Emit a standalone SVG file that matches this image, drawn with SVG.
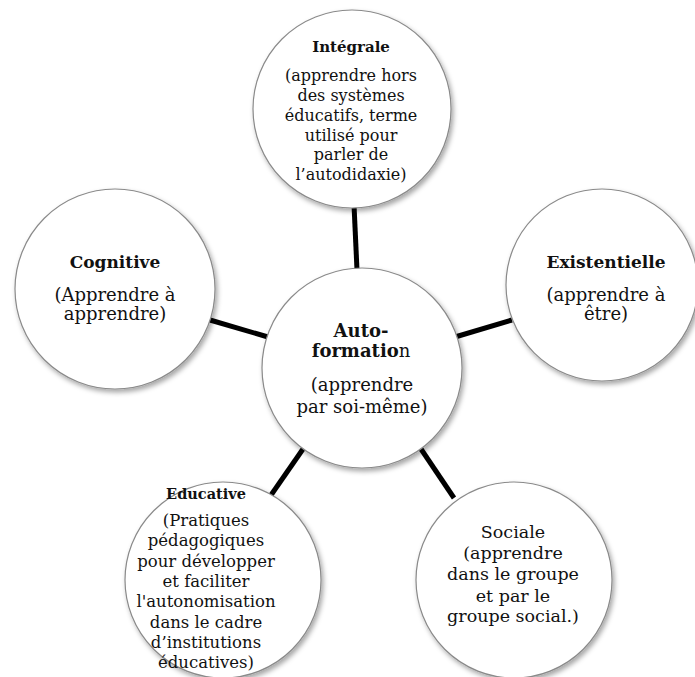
<svg xmlns="http://www.w3.org/2000/svg" width="695" height="677" viewBox="0 0 695 677">
<defs>
<filter id="sh" x="-20%" y="-20%" width="140%" height="140%">
<feDropShadow dx="2" dy="3" stdDeviation="2.5" flood-color="#000" flood-opacity="0.35"/>
</filter>
<style>
.c{fill:#fff;stroke:#8a8a8a;stroke-width:1.2;filter:url(#sh)}
.l{stroke:#000;stroke-width:5;fill:none}
text{font-family:"DejaVu Serif","Liberation Serif",serif;fill:#111;text-anchor:middle}
.b{font-weight:bold}
</style>
</defs>
<rect width="695" height="677" fill="#fff"/>
<g id="connectors">
<line class="l" x1="354" y1="205" x2="357" y2="270"/>
<line class="l" x1="210" y1="320" x2="268" y2="337"/>
<line class="l" x1="455" y1="337" x2="512" y2="320"/>
<line class="l" x1="303" y1="449" x2="269" y2="498"/>
<line class="l" x1="421" y1="449" x2="454" y2="498"/>
</g>
<g id="integrale">
<circle class="c" cx="352" cy="109" r="99"/>
<text class="b" x="351" y="52" font-size="15">Intégrale</text>
<g font-size="16">
<text x="351" y="81">(apprendre hors</text>
<text x="351" y="101">des systèmes</text>
<text x="351" y="121">éducatifs, terme</text>
<text x="351" y="141">utilisé pour</text>
<text x="351" y="160">parler de</text>
<text x="351" y="180">l’autodidaxie)</text>
</g>
</g>
<g id="cognitive">
<circle class="c" cx="115" cy="289" r="100"/>
<text class="b" x="115" y="268" font-size="17">Cognitive</text>
<text x="115" y="301" font-size="18">(Apprendre à</text>
<text x="115" y="320" font-size="18">apprendre)</text>
</g>
<g id="existentielle">
<circle class="c" cx="602" cy="285" r="96"/>
<text class="b" x="606" y="268" font-size="17">Existentielle</text>
<text x="606" y="301" font-size="18">(apprendre à</text>
<text x="606" y="320" font-size="18">être)</text>
</g>
<g id="autoformation">
<circle class="c" cx="362" cy="368" r="100"/>
<text class="b" x="361" y="337" font-size="18">Auto-</text>
<text x="361" y="357" font-size="18"><tspan font-weight="bold">formatio</tspan>n</text>
<text x="362" y="391" font-size="18">(apprendre</text>
<text x="362" y="413" font-size="18">par soi-même)</text>
</g>
<g id="educative">
<circle class="c" cx="223" cy="580" r="98"/>
<text class="b" x="206" y="499" font-size="14.5">Educative</text>
<g font-size="16.5">
<text x="206" y="526">(Pratiques</text>
<text x="206" y="546">pédagogiques</text>
<text x="206" y="567">pour développer</text>
<text x="206" y="587">et faciliter</text>
<text x="206" y="607">l'autonomisation</text>
<text x="206" y="628">dans le cadre</text>
<text x="206" y="648">d’institutions</text>
<text x="206" y="668">éducatives)</text>
</g>
</g>
<g id="sociale">
<circle class="c" cx="514" cy="580" r="98"/>
<g font-size="17.5">
<text x="513" y="538">Sociale</text>
<text x="513" y="559">(apprendre</text>
<text x="513" y="580">dans le groupe</text>
<text x="513" y="602">et par le</text>
<text x="513" y="622">groupe social.)</text>
</g>
</g>
</svg>
